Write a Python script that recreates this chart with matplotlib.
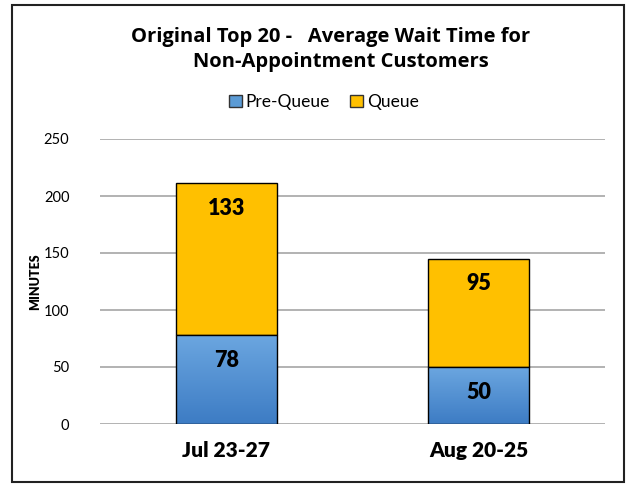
import numpy as np
import matplotlib.pyplot as plt
from matplotlib.patches import Rectangle, Patch

plt.rcParams['font.family'] = ['Lato', 'DejaVu Sans']

categories = ['Jul 23-27', 'Aug 20-25']
pre_queue = [78, 50]
queue = [133, 95]
series_names = ['Pre-Queue', 'Queue']

fig = plt.figure(figsize=(6.26, 4.84), dpi=100)
fig.patches.append(Rectangle((12 / 626, 2 / 484), 612 / 626, 477 / 484,
                             transform=fig.transFigure, fill=False,
                             edgecolor='#222222', linewidth=1.5))

ax = fig.add_axes([100 / 626, 60 / 484, 505 / 626, 285 / 484])
x = np.arange(len(categories))
width = 0.4

blue_bars = ax.bar(x, pre_queue, width, color='#5b9bd5', edgecolor='black',
                   linewidth=1.0, zorder=3)
yellow_bars = ax.bar(x, queue, width, bottom=pre_queue, color='#ffc000',
                     edgecolor='black', linewidth=1.0, zorder=3)

# blue gradient, lighter on top
grad = np.linspace(0, 1, 256).reshape(-1, 1)
cmap = plt.matplotlib.colors.LinearSegmentedColormap.from_list(
    'bl', ['#3d7cc4', '#6ba6e0'])
for b in blue_bars:
    xx, yy = b.get_x(), b.get_y()
    im = ax.imshow(grad, cmap=cmap, aspect='auto', origin='lower',
                   extent=[xx, xx + b.get_width(), yy, yy + b.get_height()],
                   zorder=3.5)
    im.set_clip_path(b)
    b.set_facecolor('none')
    b.set_zorder(4)

for i in range(len(categories)):
    ax.text(x[i], pre_queue[i] - 22, str(pre_queue[i]), ha='center',
            va='center', fontsize=15.5, fontweight='heavy', zorder=5)
    ax.text(x[i], pre_queue[i] + queue[i] - 22, str(queue[i]), ha='center',
            va='center', fontsize=15.5, fontweight='heavy', zorder=5)

ax.set_xlim(-0.5, 1.5)
ax.set_ylim(0, 250)
ax.set_yticks(range(0, 251, 50))
ax.grid(axis='y', color='#a6a6a6', linewidth=1.2, zorder=0)
for s in ax.spines.values():
    s.set_visible(False)
ax.tick_params(axis='y', length=0, labelsize=10.5, pad=22)
ax.tick_params(axis='x', length=0, labelsize=15, pad=12)
ax.set_xticks(x)
ax.set_xticklabels(categories, fontweight='heavy')
ax.set_ylabel('MINUTES', fontsize=9, fontweight='heavy', labelpad=2)

fig.text(0.528, 1 - 37 / 484, 'Original Top 20 -   Average Wait Time for',
         ha='center', va='center', fontsize=14.5, fontweight='bold',
         family='Open Sans')
fig.text(0.544, 1 - 62 / 484, 'Non-Appointment Customers',
         ha='center', va='center', fontsize=14.5, fontweight='bold',
         family='Open Sans')

handles = [Patch(facecolor='#5b9bd5', edgecolor='#333333'),
           Patch(facecolor='#ffc000', edgecolor='#333333')]
fig.legend(handles=handles, labels=series_names,
           loc='center', bbox_to_anchor=(0.517, 1 - 102 / 484), ncol=2,
           frameon=False, fontsize=12.5, handlelength=0.75, handleheight=0.75,
           handletextpad=0.2, columnspacing=1.2)

fig.savefig('out.png', dpi=100)
